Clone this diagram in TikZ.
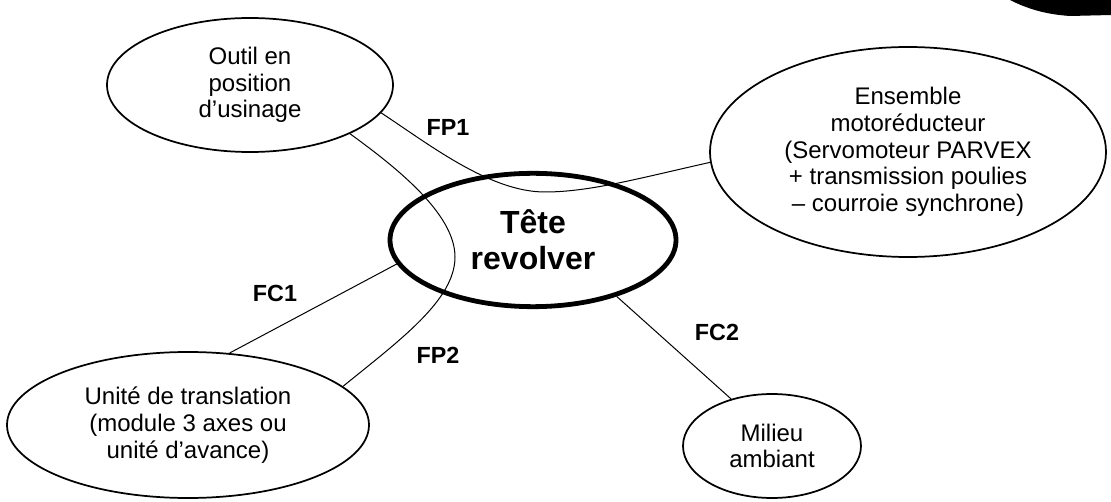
\documentclass[tikz,border=0pt]{standalone}
\usepackage{fontspec}
\setmainfont{Liberation Sans}
\usetikzlibrary{shapes.geometric}
\tikzset{
  bubble/.style={ellipse, draw, line width=1.3pt, inner sep=0pt, align=center,
    font=\fontsize{18}{20}\selectfont},
  mainbubble/.style={ellipse, draw, line width=3.6pt, inner sep=0pt, align=center,
    font=\fontsize{24}{27}\selectfont\bfseries},
  link/.style={line width=0.75pt},
  flabel/.style={font=\fontsize{17.5}{20}\selectfont\bfseries, inner sep=0pt}
}
\begin{document}
\begin{tikzpicture}[x=0.75pt,y=-0.75pt]
\useasboundingbox (0,0) rectangle (1111,502);
% nodes
\node[bubble, minimum width=214.5pt, minimum height=100.5pt] (outil) at (250,85)
  {Outil en\\position\\d’usinage};
\node[mainbubble, minimum width=214.5pt, minimum height=100pt] (tete) at (533,240)
  {Tête\\revolver};
\node[bubble, minimum width=297pt, minimum height=157.5pt] (ens) at (908,152)
  {Ensemble\\motoréducteur\\(Servomoteur PARVEX\\+ transmission poulies\\– courroie synchrone)};
\node[bubble, minimum width=271.5pt, minimum height=109.5pt] (unite) at (188,425)
  {Unité de translation\\(module 3 axes ou\\unité d’avance)};
\node[bubble, minimum width=133.5pt, minimum height=78pt] (milieu) at (772,446)
  {Milieu\\ambiant};
% connectors
\draw[link] (outil.-12) .. controls (430,145) and (490,192) .. (545,192)
  .. controls (590,192) and (640,178) .. (ens.183);
\draw[link] (outil.-26) .. controls (400,170) and (455,215) .. (455,257)
  .. controls (455,300) and (400,340) .. (unite.14);
\draw[link] (tete.190) -- (unite.60);
\draw[link] (tete.-34) -- (milieu.131);
% labels
\node[flabel] (lfp1) at (448,127) {FP1};
\node[flabel] (lfc1) at (275,293) {FC1};
\node[flabel] (lfp2) at (438,355) {FP2};
\node[flabel] (lfc2) at (717,332) {FC2};
% scan artefact, top right
\fill (1010,0) .. controls (1022,6) and (1040,14) .. (1070,16) -- (1111,15) -- (1111,0) -- cycle;
\end{tikzpicture}
\end{document}
